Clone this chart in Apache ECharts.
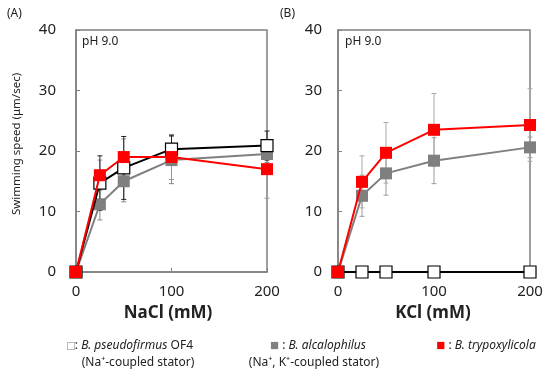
<!DOCTYPE html>
<html><head><meta charset="utf-8">
<script src="https://cdn.jsdelivr.net/npm/echarts@6/dist/echarts.min.js"></script>
<style>html,body{margin:0;padding:0;background:#fff}#c{width:550px;height:372px}</style>
</head><body><div id="c"></div>
<script>
const conc = [0, 25, 50, 100, 200];
const xTicks = [0, 100, 200];
const yTicks = [0, 10, 20, 30, 40];
// Panel A (NaCl)
const naPseudo = [0, 14.7, 17.2, 20.3, 20.9];
const naPseudoErr = [0, 4.5, 5.2, 2.3, 2.4];
const naAlcal = [0, 11.2, 15.0, 18.5, 19.5];
const naAlcalErr = [0, 2.6, 3.4, 3.9, 1.4];
const naTryp = [0, 16.0, 19.0, 19.0, 17.0];
const naTrypErr = [0, 2.5, 3.0, 3.7, 4.8];
// Panel B (KCl)
const kPseudo = [0, 0, 0, 0, 0];
const kAlcal = [0, 12.6, 16.3, 18.4, 20.6];
const kAlcalErr = [0, 3.4, 3.6, 3.8, 1.7];
const kTryp = [0, 14.9, 19.7, 23.5, 24.3];
const kTrypErr = [0, 4.3, 5.0, 6.0, 6.0];

const FONT = '"Noto Sans", "Open Sans", sans-serif';
const AX = '#808080';

function pairs(xs, ys) { return xs.map((x, i) => [x, ys[i]]); }
function errData(xs, ys, es) { return xs.map((x, i) => [x, ys[i], es[i]]).filter(d => d[2] > 0); }

function errSeries(idx, xs, ys, es, color) {
  return {
    type: 'custom', xAxisIndex: idx, yAxisIndex: idx, z: 1, silent: true,
    data: errData(xs, ys, es),
    renderItem: function (params, api) {
      const x = api.value(0), y = api.value(1), e = api.value(2);
      const top = api.coord([x, y + e]);
      const bot = api.coord([x, y - e]);
      const st = { stroke: color, lineWidth: 1 };
      const w = 2.5;
      return { type: 'group', children: [
        { type: 'line', shape: { x1: top[0], y1: top[1], x2: bot[0], y2: bot[1] }, style: st },
        { type: 'line', shape: { x1: top[0] - w, y1: top[1], x2: top[0] + w, y2: top[1] }, style: st },
        { type: 'line', shape: { x1: bot[0] - w, y1: bot[1], x2: bot[0] + w, y2: bot[1] }, style: st }
      ] };
    }
  };
}

function lineSeries(idx, xs, ys, color, fill, z) {
  return {
    type: 'line', xAxisIndex: idx, yAxisIndex: idx, z: z, clip: false,
    data: pairs(xs, ys), symbol: 'rect', symbolSize: 12,
    lineStyle: { color: color, width: 2 },
    itemStyle: { color: fill, borderColor: color, borderWidth: fill === '#fff' ? 1.2 : 0 },
    emphasis: { disabled: true }, animation: false
  };
}

function xAx(idx) {
  return {
    gridIndex: idx, type: 'value', min: 0, max: 200, interval: 100,
    axisLine: { show: true, lineStyle: { color: AX, width: 1.5 } },
    axisTick: { show: true, inside: true, length: 4, lineStyle: { color: AX } },
    axisLabel: { fontSize: 15, color: '#222', margin: 12, fontFamily: FONT },
    splitLine: { show: false }
  };
}
function yAx(idx, margin) {
  return {
    gridIndex: idx, type: 'value', min: 0, max: 40, interval: 10,
    axisLine: { show: true, lineStyle: { color: AX, width: 1.5 } },
    axisTick: { show: true, inside: true, length: 4, lineStyle: { color: AX } },
    axisLabel: { fontSize: 15, color: '#222', margin: margin, fontFamily: FONT },
    splitLine: { show: false }
  };
}

const chart = echarts.init(document.getElementById('c'), null, { renderer: 'canvas' });
const legendRich = {
  i: { fontStyle: 'italic', fontSize: 12, fontFamily: FONT, fill: '#222' },
  n: { fontSize: 12, fontFamily: FONT, fill: '#222' },
  g: { fontSize: 15, fontFamily: FONT, fill: '#808080' },
  r: { fontSize: 15, fontFamily: FONT, fill: '#ff0000' },
  o: { fontSize: 13, fontFamily: FONT, fill: '#808080' }
};
chart.setOption({
  animation: false,
  grid: [
    { left: 76, top: 30, width: 191, height: 242, show: true, borderColor: AX, borderWidth: 1.5 },
    { left: 338, top: 30, width: 192, height: 242, show: true, borderColor: AX, borderWidth: 1.5 }
  ],
  xAxis: [xAx(0), xAx(1)],
  yAxis: [yAx(0, 20), yAx(1, 16)],
  series: [
    errSeries(0, conc, naAlcal, naAlcalErr, '#888'),
    errSeries(0, conc, naTryp, naTrypErr, '#999'),
    errSeries(0, conc, naPseudo, naPseudoErr, '#222'),
    lineSeries(0, conc, naAlcal, '#7f7f7f', '#7f7f7f', 2),
    lineSeries(0, conc, naPseudo, '#000', '#fff', 3),
    lineSeries(0, conc, naTryp, '#ff0000', '#ff0000', 4),
    errSeries(1, conc, kAlcal, kAlcalErr, '#999'),
    errSeries(1, conc, kTryp, kTrypErr, '#aaa'),
    lineSeries(1, conc, kAlcal, '#7f7f7f', '#7f7f7f', 2),
    lineSeries(1, conc, kPseudo, '#000', '#fff', 3),
    lineSeries(1, conc, kTryp, '#ff0000', '#ff0000', 4)
  ],
  graphic: [
    { type: 'text', left: 7, top: 8, style: { text: '(A)', fontSize: 12, fontFamily: FONT, fill: '#222' } },
    { type: 'text', left: 280, top: 8, style: { text: '(B)', fontSize: 12, fontFamily: FONT, fill: '#222' } },
    { type: 'text', left: 82, top: 36, style: { text: 'pH 9.0', fontSize: 12, fontFamily: FONT, fill: '#222' } },
    { type: 'text', left: 345, top: 36, style: { text: 'pH 9.0', fontSize: 12, fontFamily: FONT, fill: '#222' } },
    { type: 'text', x: 17, y: 144, rotation: Math.PI / 2,
      style: { text: 'Swimming speed (μm/sec)', fontSize: 11.5, fontFamily: FONT, fill: '#222', align: 'center', verticalAlign: 'middle' } },
    { type: 'text', x: 168, y: 313, style: { text: 'NaCl (mM)', fontSize: 17, fontWeight: 'bold', fontFamily: FONT, fill: '#222', align: 'center', verticalAlign: 'middle' } },
    { type: 'text', x: 433, y: 313, style: { text: 'KCl (mM)', fontSize: 17, fontWeight: 'bold', fontFamily: FONT, fill: '#222', align: 'center', verticalAlign: 'middle' } },
    { type: 'text', x: 130, y: 346, style: { text: '{o|□}{n|: }{i|B. pseudofirmus}{n| OF4}', rich: legendRich, align: 'center', verticalAlign: 'middle' } },
    { type: 'text', x: 138, y: 363, style: { text: '(Na⁺-coupled stator)', fontSize: 12, fontFamily: FONT, fill: '#222', align: 'center', verticalAlign: 'middle' } },
    { type: 'text', x: 318, y: 346, style: { text: '{g|■}{n| : }{i|B. alcalophilus}', rich: legendRich, align: 'center', verticalAlign: 'middle' } },
    { type: 'text', x: 314, y: 363, style: { text: '(Na⁺, K⁺-coupled stator)', fontSize: 12, fontFamily: FONT, fill: '#222', align: 'center', verticalAlign: 'middle' } },
    { type: 'text', x: 486, y: 346, style: { text: '{r|■}{n| : }{i|B. trypoxylicola}', rich: legendRich, align: 'center', verticalAlign: 'middle' } }
  ]
});
</script></body></html>
